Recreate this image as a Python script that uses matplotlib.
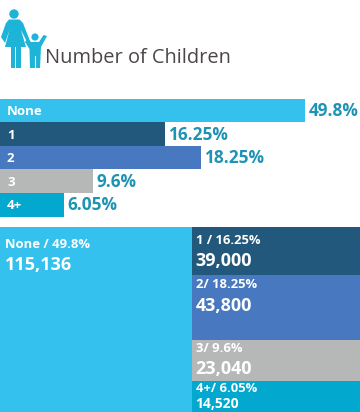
import matplotlib
matplotlib.use('Agg')
import matplotlib.pyplot as plt
from matplotlib.patches import Circle, Polygon, Rectangle

# values as printed
categories = ['None', '1', '2', '3', '4+']
bar_labels = ['49.8%', '16.25%', '18.25%', '9.6%', '6.05%']
# bar lengths, the original is not drawn to scale
bar_lengths = [304.5, 164.5, 200.5, 92.5, 63.5]
colors = ['#35c1ee', '#22587b', '#4878bf', '#b6b8b8', '#03a8cf']

cell_titles = ['None / 49.8%', '1 / 16.25%', '2/ 18.25%', '3/ 9.6%', '4+/ 6.05%']
cell_counts = ['115,136', '39,000', '43,800', '23,040', '14,520']
# cell heights in the right column
cell_heights = [47.5, 65.5, 41, 31]

plt.rcParams['font.family'] = ['Open Sans', 'DejaVu Sans']

fig = plt.figure(figsize=(3.6, 4.12), dpi=100)
ax = fig.add_axes([0, 0, 1, 1])
ax.set_xlim(0, 360)
ax.set_ylim(412, 0)
ax.axis('off')

# icon, mother and child
icon = '#1db4d8'
ax.add_patch(Circle((14, 14), 4.7, color=icon, lw=0))
ax.add_patch(Polygon([(9, 19.5), (19.5, 19.5), (23, 23), (30, 41), (28, 44), (21, 30), (26, 47), (5, 47),
                      (9.5, 30), (5, 43), (1, 37), (6, 23)], color=icon, lw=0))
ax.add_patch(Rectangle((10.5, 46), 4.8, 22, color=icon, lw=0))
ax.add_patch(Rectangle((16, 46), 4.8, 22, color=icon, lw=0))
ax.add_patch(Circle((35, 37), 3.6, color=icon, lw=0))
ax.add_patch(Polygon([(27.5, 38), (31, 42), (39, 42), (43.5, 35), (47, 36), (41, 47), (40, 68),
                      (30, 68), (29.5, 49), (25, 42)], color=icon, lw=0))
ax.plot([35, 35], [56, 68], color='white', lw=0.8)

ax.text(45, 57.5, 'Number of Children', fontsize=14.4, color='#4b4749', va='center', ha='left')

# top bars
y = 98.5
for i in range(len(categories)):
    ax.barh(y + 11.8, bar_lengths[i], height=23.6, color=colors[i], lw=0)
    ax.text(7, y + 13, categories[i], color='white', fontsize=9.5, fontweight='bold', va='center')
    ax.text(bar_lengths[i] + 4, y + 12.5, bar_labels[i], color='#1f93b4', fontsize=12.4,
            fontweight='bold', va='center')
    y += 23.6

# lower block
top = 227
split = 191.5
ax.add_patch(Rectangle((0, top), split, 412 - top, color=colors[0], lw=0))
ax.text(5, 244, cell_titles[0], color='white', fontsize=9.4, fontweight='bold', va='center')
ax.text(5, 265, cell_counts[0], color='white', fontsize=13, fontweight='bold', va='center')

title_off = [13, 9.5, 8.5, 7.5]
count_off = [34.5, 31.5, 29, 22.5]
count_size = [13, 13, 13, 10]
y = top
for i in range(4):
    ax.add_patch(Rectangle((split, y), 360 - split, cell_heights[i], color=colors[i + 1], lw=0))
    ax.text(split + 4, y + title_off[i], cell_titles[i + 1], color='white', fontsize=9.4,
            fontweight='bold', va='center')
    ax.text(split + 4, y + count_off[i], cell_counts[i + 1], color='white', fontsize=count_size[i],
            fontweight='bold', va='center')
    y += cell_heights[i]

fig.savefig('out.png', dpi=100)
